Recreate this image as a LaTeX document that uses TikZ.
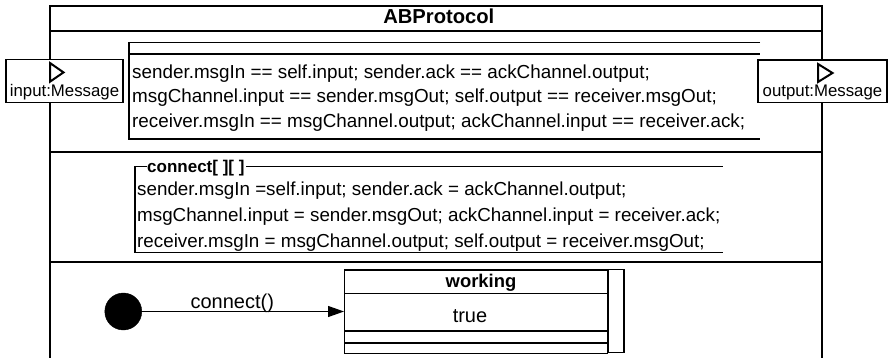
\documentclass[tikz,border=0pt]{standalone}
\usepackage{fontspec}
\setmainfont{Liberation Sans}
\usetikzlibrary{arrows.meta}
\begin{document}
\begin{tikzpicture}[x=1pt,y=-1pt,line join=miter,
  frame/.style={line width=2pt},
  sepline/.style={line width=1.7pt},
  rule/.style={line width=1.3pt},
  code/.style={anchor=base west,inner sep=0pt,font=\fontsize{18.85}{22}\selectfont},
  portbox/.style={draw,line width=1.3pt,fill=white,inner sep=0pt},
  portlabel/.style={anchor=base,inner sep=0pt,font=\fontsize{16.8}{20}\selectfont},
  porttip/.style={line width=2pt,line join=miter},
  heading/.style={anchor=base,inner sep=0pt,font=\bfseries\fontsize{20.2}{22}\selectfont},
  statetext/.style={anchor=base,inner sep=0pt,font=\fontsize{20}{22}\selectfont},
  initial/.style={circle,fill=black,draw=black,minimum size=37pt,inner sep=0pt},
  transition/.style={line width=1.2pt,-{Triangle[length=16pt,width=11pt]}}
]
\useasboundingbox (0,0) rectangle (888,358);

% composite state frame, open at the bottom
\draw[frame] (50,362) -- (50,6) -- (822,6) -- (822,362);
\draw[frame] (50,31) -- (822,31);
\node[heading] (title) at (438.8,24) {ABProtocol};

% compartment separators
\draw[sepline] (50,152) -- (822,152);
\draw[sepline] (50,262) -- (822,262);

% invariant compartment
\draw[rule] (760,42.7) -- (129,42.7) -- (129,139) -- (760,139);
\draw[rule] (129,54) -- (760,54);
\node[code] (inv1) at (132,78.5) {sender.msgIn == self.input; sender.ack == ackChannel.output;};
\node[code] (inv2) at (132,103) {msgChannel.input == sender.msgOut; self.output == receiver.msgOut;};
\node[code] (inv3) at (132,127.5) {receiver.msgIn == msgChannel.output; ackChannel.input == receiver.ack;};

% ports
\path[portbox] (6,59.5) rectangle (123,102.7);
\draw[porttip] (50,63) -- (50,81.7) -- (63.5,72.4) -- cycle;
\node[portlabel] (inlabel) at (64.5,96.7) {input:Message};

\path[portbox] (758,60) rectangle (887,102.7);
\draw[porttip] (818,64) -- (818,82) -- (832.5,73) -- cycle;
\node[portlabel] (outlabel) at (822.5,96.7) {output:Message};

% connection compartment
\node[anchor=base west,inner sep=0pt,font=\bfseries\fontsize{17}{20}\selectfont] (conn) at (147,172.5) {connect[ ][ ]};
\coordinate (cTL) at (135,166.7);
\draw[rule] (conn.west |- cTL) -- (cTL) -- (135,252.7) -- (723,252.7);
\draw[rule] ([xshift=1.5pt]conn.east |- cTL) -- (723,166.7);
\node[code,font=\fontsize{18.8}{22}\selectfont] (con1) at (137,196) {sender.msgIn =self.input; sender.ack = ackChannel.output;};
\node[code,font=\fontsize{18.8}{22}\selectfont] (con2) at (137,221.5) {msgChannel.input = sender.msgOut; ackChannel.input = receiver.ack;};
\node[code,font=\fontsize{18.8}{22}\selectfont] (con3) at (137,247) {receiver.msgIn = msgChannel.output; self.output = receiver.msgOut;};

% behaviour compartment
\node[initial] (init) at (123.3,311.5) {};
\node[draw,line width=1.2pt,minimum width=262.7pt,minimum height=83.4pt,inner sep=0pt,anchor=north west] (working) at (344,269.3) {};
\draw[line width=1.2pt] (working.north east) rectangle (624,352.7);
\draw[line width=1.2pt] (344,293.7) -- (606.7,293.7);
\draw[line width=1.2pt] (344,331) -- (606.7,331);
\draw[line width=1.2pt] (344,343) -- (606.7,343);
\node[statetext,font=\bfseries\fontsize{18.4}{20}\selectfont] (wname) at (481,287) {working};
\node[statetext] (winv) at (470,322.7) {true};
\draw[transition] (init) -- (init -| working.west);
\node[statetext] (tlabel) at (232.3,308.5) {connect()};
\end{tikzpicture}
\end{document}
